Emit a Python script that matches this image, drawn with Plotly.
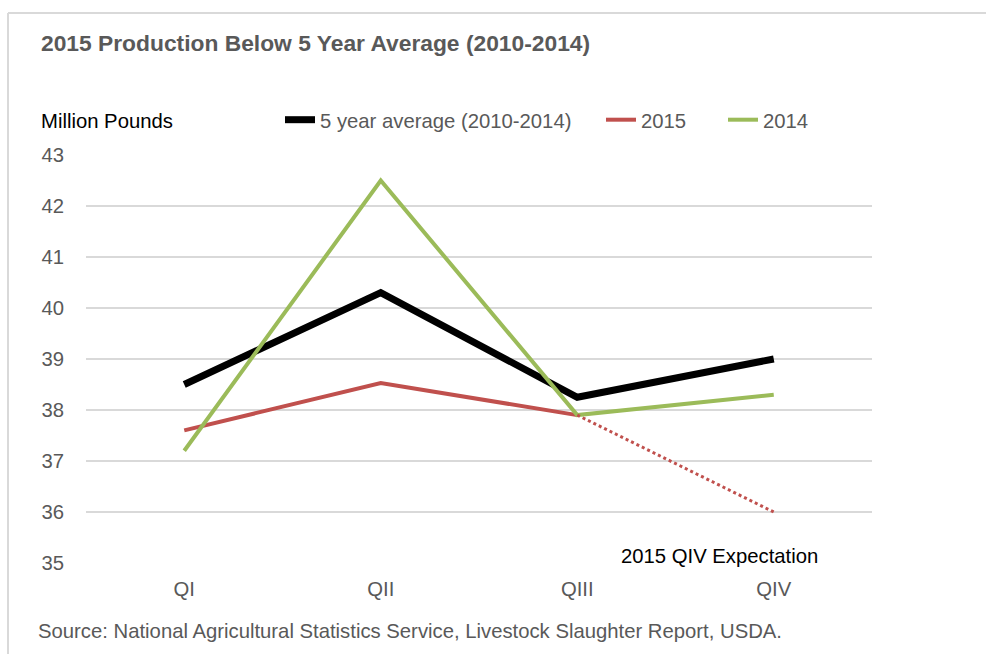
import plotly.graph_objects as go

# Quarterly production, million pounds
quarters = ["QI", "QII", "QIII", "QIV"]
avg_2010_2014 = [38.5, 40.3, 38.25, 39.0]
prod_2015 = [37.6, 38.53, 37.9, None]
prod_2014 = [37.2, 42.5, 37.9, 38.3]
# 2015 fourth-quarter expectation (dotted continuation from QIII)
expect_2015 = [None, None, 37.9, 36.0]

y_ticks = [35, 36, 37, 38, 39, 40, 41, 42, 43]

W, H = 986, 654
L, R, T, B = 86, 114, 155, 91
pw, ph = W - L - R, H - T - B

def px_x(px):
    return (px - L) / pw

def px_y(py):
    return (H - B - py) / ph

FONT = "Liberation Sans, Arial, sans-serif"
GREY = "#595959"
FS = 20.3

fig = go.Figure()
fig.add_trace(go.Scatter(
    x=quarters, y=avg_2010_2014, mode="lines", name="5 year average (2010-2014)",
    line=dict(color="#000000", width=7), legend="legend"))
fig.add_trace(go.Scatter(
    x=quarters, y=prod_2015, mode="lines", name="2015",
    line=dict(color="#C0504D", width=4), legend="legend2"))
fig.add_trace(go.Scatter(
    x=quarters, y=prod_2014, mode="lines", name="2014",
    line=dict(color="#9BBB59", width=4), legend="legend3"))
fig.add_trace(go.Scatter(
    x=quarters, y=expect_2015, mode="lines", showlegend=False,
    line=dict(color="#C0504D", width=3, dash="dot")))

leg_common = dict(orientation="h", xanchor="left", yanchor="middle",
                  font=dict(family=FONT, size=FS, color=GREY),
                  bgcolor="rgba(0,0,0,0)", itemwidth=30)
fig.update_layout(
    legend=dict(x=px_x(280), y=px_y(120), **leg_common),
    legend2=dict(x=px_x(601), y=px_y(120), **leg_common),
    legend3=dict(x=px_x(723), y=px_y(120), **leg_common),
)

fig.update_xaxes(
    type="category", range=[-0.5, 3.5], showgrid=False, zeroline=False,
    showline=False, ticks="", tickfont=dict(family=FONT, size=FS, color=GREY),
    ticklabelstandoff=12, fixedrange=True)
fig.update_yaxes(
    range=[35, 43], tickvals=y_ticks, showgrid=True, gridcolor="#D9D9D9",
    gridwidth=2, zeroline=False, showline=False, ticks="",
    tickfont=dict(family=FONT, size=FS, color=GREY), ticklabelstandoff=21,
    fixedrange=True)

annotations = [
    dict(text="<b>2015 Production Below 5 Year Average (2010-2014)</b>",
         x=px_x(39), y=px_y(43), xref="paper", yref="paper",
         xanchor="left", yanchor="middle", showarrow=False,
         font=dict(family=FONT, size=22.8, color=GREY)),
    dict(text="Million Pounds", x=px_x(39), y=px_y(121), xref="paper", yref="paper",
         xanchor="left", yanchor="middle", showarrow=False,
         font=dict(family=FONT, size=FS, color="#000000")),
    dict(text="2015 QIV Expectation", x=px_x(619), y=px_y(556), xref="paper", yref="paper",
         xanchor="left", yanchor="middle", showarrow=False,
         font=dict(family=FONT, size=FS, color="#000000")),
    dict(text="Source: National Agricultural Statistics Service, Livestock Slaughter Report, USDA.",
         x=px_x(36), y=px_y(631), xref="paper", yref="paper",
         xanchor="left", yanchor="middle", showarrow=False,
         font=dict(family=FONT, size=FS, color=GREY)),
]

shapes = [
    dict(type="line", xref="paper", yref="paper",
         x0=px_x(8), x1=px_x(W + 2), y0=px_y(13), y1=px_y(13),
         line=dict(color="#D9D9D9", width=2)),
    dict(type="line", xref="paper", yref="paper",
         x0=px_x(8), x1=px_x(8), y0=px_y(13), y1=px_y(H + 2),
         line=dict(color="#D9D9D9", width=2)),
]

fig.update_layout(
    width=W, height=H, margin=dict(l=L, r=R, t=T, b=B, pad=0),
    paper_bgcolor="white", plot_bgcolor="white",
    annotations=annotations, shapes=shapes, showlegend=True,
)

fig.write_html("out.html", config={"displayModeBar": False})
